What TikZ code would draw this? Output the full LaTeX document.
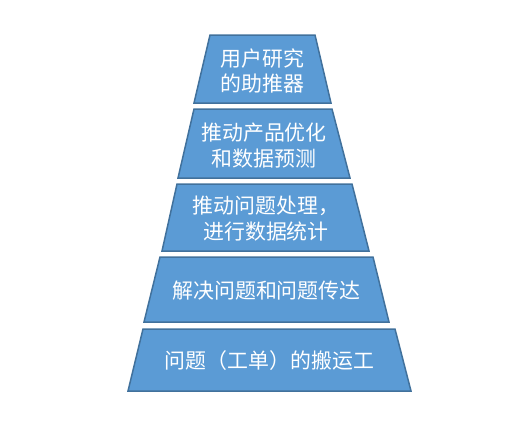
\documentclass[tikz,border=0pt]{standalone}
\usepackage{fontspec}
\newfontfamily\cjk{Noto Sans CJK SC}
\definecolor{tierfill}{HTML}{5B9BD5}
\definecolor{tierline}{HTML}{41719C}
\tikzset{
  tier/.style={fill=tierfill,draw=tierline,line width=1.5bp,line join=miter},
  tiertext/.style={text=white,align=center,font=\cjk\fontsize{21}{26}\selectfont}
}
\begin{document}
\begin{tikzpicture}[x=1bp,y=1bp,inner sep=0pt]
\useasboundingbox (0,0) rectangle (531,423);
% Tiers from top to bottom.
\draw[tier] (210,388) -- (315,388) -- (331,320) -- (194,320) -- cycle;
\node[tiertext] (research) at (262.5,352) {用户研究\\的助推器};
\draw[tier] (194,314) -- (332,314) -- (350,245) -- (178,245) -- cycle;
\node[tiertext] (product) at (264,277) {推动产品优化\\和数据预测};
\draw[tier] (177,239) -- (352,239) -- (369,172) -- (162,172) -- cycle;
\node[tiertext] (stats) at (266,204) {推动问题处理，\\进行数据统计};
\draw[tier] (160,166) -- (373,166) -- (389,101) -- (144,101) -- cycle;
\node[tiertext] (solve) at (266.5,132) {解决问题和问题传达};
\draw[tier] (143,94) -- (395,94) -- (411,32) -- (128,32) -- cycle;
\node[tiertext] (carrier) at (269.5,62) {问题（工单）的搬运工};
\end{tikzpicture}
\end{document}
